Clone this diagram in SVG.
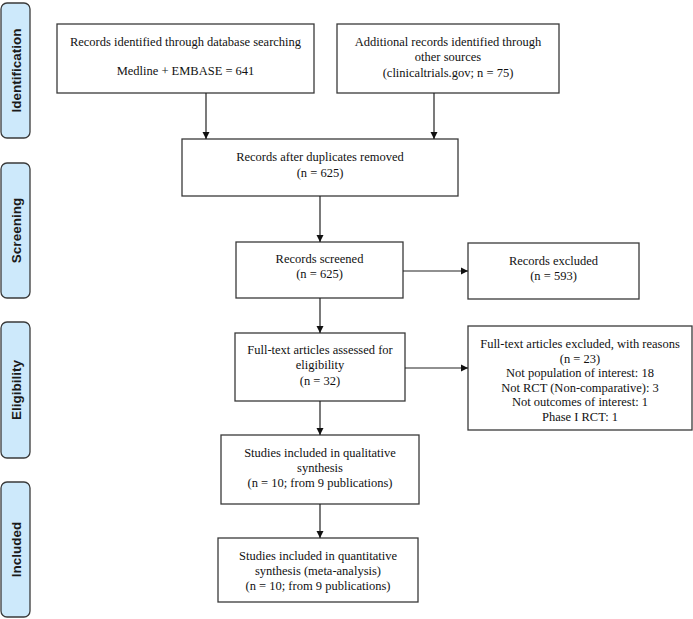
<svg xmlns="http://www.w3.org/2000/svg" width="693" height="619" viewBox="0 0 693 619">
<style>
.stage rect{fill:#cde9fb;stroke:#3a3a3a;stroke-width:1.3}
.stage text{font-family:"Liberation Sans",Arial,sans-serif;font-weight:bold;font-size:13.5px;fill:#1a1a1a;text-anchor:middle;dominant-baseline:central}
.box rect{fill:#fff;stroke:#3a3a3a;stroke-width:1.3}
.box text{font-family:"Liberation Serif","Times New Roman",serif;font-size:12.5px;fill:#111;text-anchor:middle}
.conn line{stroke:#222;stroke-width:1.2;marker-end:url(#ah)}
</style>
<defs>
<marker id="ah" markerWidth="8" markerHeight="8" refX="7" refY="4" orient="auto" markerUnits="userSpaceOnUse">
<path d="M0,0.5 L7,4 L0,7.5 Z" fill="#111"/>
</marker>
</defs>
<rect width="693" height="619" fill="#fff"/>
<g id="stage-identification" class="stage"><rect x="1" y="3" width="29" height="135" rx="6"/><text transform="translate(16,70.5) rotate(-90)">Identification</text></g>
<g id="stage-screening" class="stage"><rect x="1" y="163" width="29" height="135" rx="6"/><text transform="translate(16,230.5) rotate(-90)">Screening</text></g>
<g id="stage-eligibility" class="stage"><rect x="1" y="322" width="29" height="136" rx="6"/><text transform="translate(16,390) rotate(-90)">Eligibility</text></g>
<g id="stage-included" class="stage"><rect x="1" y="482" width="29" height="135" rx="6"/><text transform="translate(16,549.5) rotate(-90)">Included</text></g>

<g id="db-search" class="box"><rect x="57" y="24" width="257" height="69"/><text x="185.5" y="46">Records identified through database searching</text><text x="185.5" y="75">Medline + EMBASE = 641</text></g>
<g id="other-sources" class="box"><rect x="337" y="24" width="222" height="69"/><text x="448" y="46">Additional records identified through</text><text x="448" y="61">other sources</text><text x="448" y="77">(clinicaltrials.gov; n = 75)</text></g>
<g id="dedup" class="box"><rect x="182" y="139" width="276" height="57"/><text x="320" y="161">Records after duplicates removed</text><text x="320" y="177">(n = 625)</text></g>
<g id="screened" class="box"><rect x="236" y="242" width="167" height="56"/><text x="319.5" y="263">Records screened</text><text x="319.5" y="278">(n = 625)</text></g>
<g id="excluded" class="box"><rect x="468" y="243" width="171" height="56"/><text x="553.5" y="265">Records excluded</text><text x="553.5" y="280">(n = 593)</text></g>
<g id="fulltext" class="box"><rect x="235" y="333" width="170" height="68"/><text x="320" y="354">Full-text articles assessed for</text><text x="320" y="369">eligibility</text><text x="320" y="385">(n = 32)</text></g>
<g id="fulltext-excluded" class="box"><rect x="468" y="326" width="224" height="104"/><text x="580" y="348">Full-text articles excluded, with reasons</text><text x="580" y="362.5">(n = 23)</text><text x="580" y="377">Not population of interest: 18</text><text x="580" y="391.5">Not RCT (Non-comparative): 3</text><text x="580" y="406">Not outcomes of interest: 1</text><text x="580" y="420.5">Phase I RCT: 1</text></g>
<g id="qualitative" class="box"><rect x="221" y="435" width="198" height="69"/><text x="320" y="457">Studies included in qualitative</text><text x="320" y="472">synthesis</text><text x="320" y="487">(n = 10; from 9 publications)</text></g>
<g id="quantitative" class="box"><rect x="218" y="538" width="200" height="64"/><text x="318" y="560">Studies included in quantitative</text><text x="318" y="575">synthesis (meta-analysis)</text><text x="318" y="590">(n = 10; from 9 publications)</text></g>

<g id="connectors" class="conn">
<line x1="206" y1="93" x2="206" y2="139"/>
<line x1="434" y1="93" x2="434" y2="139"/>
<line x1="320" y1="196" x2="320" y2="242"/>
<line x1="403" y1="271" x2="468" y2="271"/>
<line x1="320" y1="298" x2="320" y2="333"/>
<line x1="405" y1="368" x2="468" y2="368"/>
<line x1="320" y1="401" x2="320" y2="435"/>
<line x1="320" y1="504" x2="320" y2="538"/>
</g>
</svg>
